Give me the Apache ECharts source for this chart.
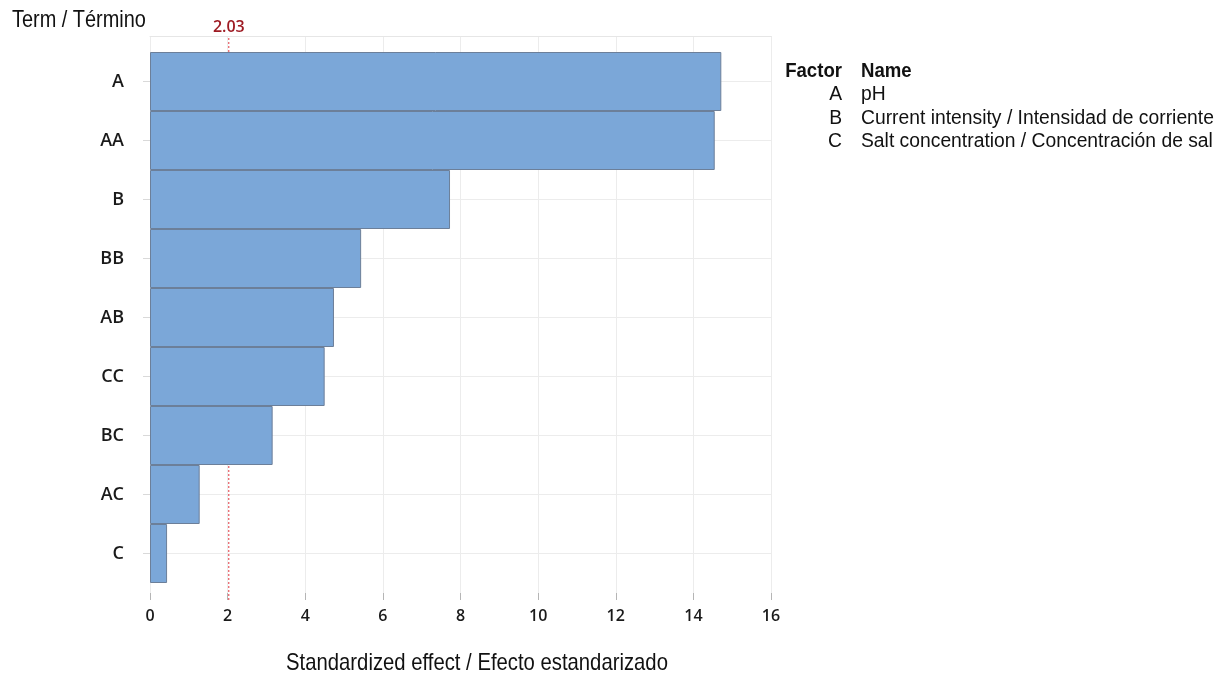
<!DOCTYPE html>
<html>
<head>
<meta charset="utf-8">
<script src="https://cdn.jsdelivr.net/npm/echarts@6/dist/echarts.min.js"></script>
<style>
  html, body { margin: 0; padding: 0; background: #ffffff; }
  #chart { width: 1222px; height: 675px; }
</style>
</head>
<body>
<div id="chart"></div>
<script>
// Pareto chart of standardized effects
const terms = ['A', 'AA', 'B', 'BB', 'AB', 'CC', 'BC', 'AC', 'C'];
const effects = [14.72, 14.55, 7.73, 5.44, 4.74, 4.50, 3.16, 1.28, 0.44];
const criticalValue = 2.03;
const xMin = 0, xMax = 16, xStep = 2;
const yTitle = 'Term / Término';
const xTitle = 'Standardized effect / Efecto estandarizado';
const factorHeader = ['Factor', 'Name'];
const factorCodes = ['A', 'B', 'C'];
const factorNames = [
  'pH',
  'Current intensity / Intensidad de corriente',
  'Salt concentration / Concentración de sal'
];

const sans = '"Liberation Sans", Arial, sans-serif';
const labelFont = '"Open Sans", "Noto Sans", sans-serif';

const chart = echarts.init(document.getElementById('chart'), null, { renderer: 'canvas' });

// condensed-looking text: regular sans squeezed horizontally
function narrowText(str, x, y, size, opts) {
  opts = opts || {};
  return {
    type: 'text', x: x, y: y, scaleX: opts.scale || 0.84, scaleY: 1, silent: true,
    style: {
      text: str,
      font: (opts.bold ? 'bold ' : '') + size + 'px ' + sans,
      fill: '#111',
      align: opts.align || 'left',
      verticalAlign: 'middle'
    }
  };
}

// legend table: Factor / Name
const codeRight = 842, nameLeft = 861, headerY = 71, rowStep = 23.5;
const texts = [
  narrowText(yTitle, 12, 20, 24, { scale: 0.83 }),
  narrowText(xTitle, 477, 663, 24, { align: 'center', scale: 0.845 }),
  narrowText(factorHeader[0], codeRight, headerY, 20, { bold: true, align: 'right', scale: 0.93 }),
  narrowText(factorHeader[1], nameLeft, headerY, 20, { bold: true, scale: 0.93 })
];
factorCodes.forEach((code, i) => {
  const y = headerY + rowStep * (i + 1);
  texts.push(narrowText(code, codeRight, y, 20, { align: 'right', scale: 0.965 }));
  texts.push(narrowText(factorNames[i], nameLeft, y, 20, { scale: 0.965 }));
});

const option = {
  backgroundColor: '#ffffff',
  animation: false,
  graphic: texts,
  grid: [
    { left: 150, width: 621, top: 36, height: 564 },   // frame with vertical grid lines
    { left: 150, width: 621, top: 52, height: 531 }    // bars
  ],
  xAxis: [
    {
      gridIndex: 0, type: 'value', position: 'bottom',
      min: xMin, max: xMax, interval: xStep,
      axisLine: { show: false },
      axisTick: { show: true, inside: true, length: 7, lineStyle: { color: '#b5b5b5' } },
      axisLabel: { fontFamily: labelFont, fontWeight: 600, fontSize: 16, color: '#1a1a1a', margin: 8 },
      splitLine: { show: true, lineStyle: { color: '#ececec', width: 1 } }
    },
    {
      gridIndex: 0, type: 'value', position: 'top',
      min: xMin, max: xMax, interval: xStep,
      axisLine: { show: true, lineStyle: { color: '#e6e6e6', width: 1 } },
      axisTick: { show: false }, axisLabel: { show: false }, splitLine: { show: false }
    },
    {
      gridIndex: 1, type: 'value', min: xMin, max: xMax, interval: xStep, show: false,
      splitLine: { show: false }
    }
  ],
  yAxis: [
    { gridIndex: 0, type: 'value', min: 0, max: 1, show: false, splitLine: { show: false } },
    {
      gridIndex: 1, type: 'category', data: terms, inverse: true,
      axisLine: { show: false },
      axisTick: { show: true, alignWithLabel: true, length: 7, lineStyle: { color: '#d9d9d9' } },
      axisLabel: { fontFamily: labelFont, fontWeight: 600, fontSize: 18, color: '#1a1a1a', margin: 26 },
      splitLine: { show: true, alignWithLabel: true, lineStyle: { color: '#ececec', width: 1 } }
    }
  ],
  series: [
    {
      // critical value reference line, spanning the whole frame
      type: 'line', xAxisIndex: 0, yAxisIndex: 0, z: 1, silent: true,
      symbol: 'none', showSymbol: false,
      lineStyle: { color: '#e23a42', type: [2, 2], width: 1 },
      data: [[criticalValue, 0], [criticalValue, 1]]
    },
    {
      // value label above the reference line
      type: 'scatter', xAxisIndex: 0, yAxisIndex: 0, z: 1, silent: true, clip: false,
      symbolSize: 1,
      itemStyle: { color: 'rgba(255,255,255,0)' },
      label: {
        show: true, position: 'top', distance: 0, opacity: 1,
        formatter: p => p.value[0].toFixed(2),
        fontFamily: labelFont, fontWeight: 600, fontSize: 16, color: '#9e1b23'
      },
      data: [[criticalValue, 1]]
    },
    {
      type: 'bar', xAxisIndex: 2, yAxisIndex: 1, data: effects, z: 3,
      barWidth: '100%',
      itemStyle: { color: '#7ba7d8', borderColor: '#6c7f99', borderWidth: 1 }
    }
  ]
};
chart.setOption(option);
</script>
</body>
</html>
